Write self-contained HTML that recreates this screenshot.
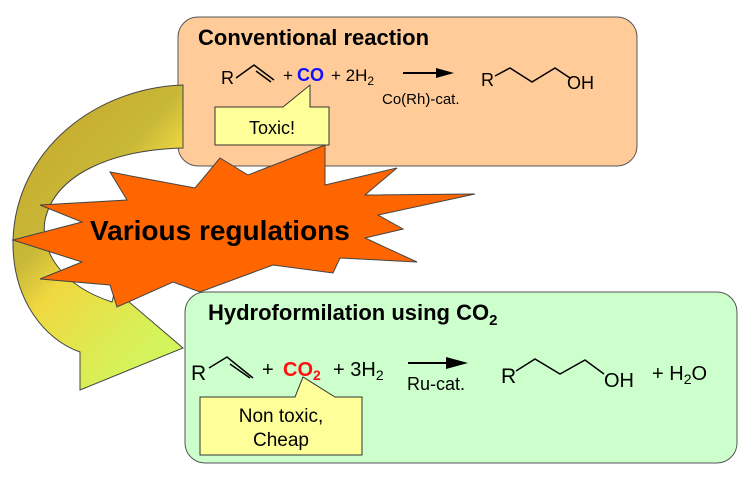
<!DOCTYPE html>
<html><head><meta charset="utf-8"><style>
html,body{margin:0;padding:0;background:#fff;}
svg{display:block;}
text{font-family:"Liberation Sans",sans-serif;}
.h{font-weight:bold;}
</style></head><body>
<svg width="755" height="488" viewBox="0 0 755 488" xmlns="http://www.w3.org/2000/svg">
<defs>
<linearGradient id="g" x1="0" y1="0" x2="0.6" y2="1">
<stop offset="0" stop-color="#c8a428"/>
<stop offset="0.45" stop-color="#c8b838"/>
<stop offset="0.6" stop-color="#f0d840"/>
<stop offset="1" stop-color="#d4f45c"/>
</linearGradient>
</defs>
<rect x="178" y="17" width="459" height="149" rx="20" fill="#ffcc99" stroke="#555" stroke-width="1"/>
<path d="M183,85 C95,88 16,150 13,240 C12,300 45,340 80,352 L80,390 L183,348 L115,290 L112,302 C60,285 40,250 45,220 C55,175 110,150 183,148 Z" fill="url(#g)" stroke="#444" stroke-width="1"/>
<rect x="185" y="292" width="552" height="171" rx="20" fill="#ccffcc" stroke="#555" stroke-width="1"/>
<polygon points="13,240 82,222 40,205 127,200 110,172 195,188 220,158 248,175 325,145 325,185 397,168 365,195 475,194 378,215 403,229 365,238 417,262 340,258 333,273 273,265 200,292 173,282 117,307 110,285 40,279 82,262" fill="#ff6600" stroke="#444" stroke-width="1"/>
<text x="90" y="240" class="h" font-size="28" fill="#000">Various regulations</text>
<text x="198" y="45" class="h" font-size="22">Conventional reaction</text>
<text x="221" y="84" font-size="18">R</text>
<polyline points="236,78 254,65 274,80" fill="none" stroke="#000" stroke-width="1.5"/>
<line x1="256" y1="71" x2="271" y2="82" stroke="#000" stroke-width="1.5"/>
<text x="283" y="81" font-size="17">+</text>
<text x="297" y="81" font-size="18" class="h" fill="#1010ff">CO</text>
<text x="331" y="81" font-size="17">+ 2H<tspan font-size="12" dy="4">2</tspan></text>
<line x1="403" y1="73" x2="440" y2="73" stroke="#000" stroke-width="2"/>
<polygon points="436,68 454,73 436,78" fill="#000"/>
<text x="382" y="104" font-size="15">Co(Rh)-cat.</text>
<text x="481" y="86" font-size="18">R</text>
<polyline points="495,76 510,68 532,82 555,68 570,78" fill="none" stroke="#000" stroke-width="1.5"/>
<text x="567" y="89" font-size="18">OH</text>
<polygon points="215,107 283,107 310,85 310,107 329,107 329,145 215,145" fill="#ffff99" stroke="#333" stroke-width="1"/>
<text x="272" y="134" font-size="18" text-anchor="middle">Toxic!</text>
<text x="208" y="320" class="h" font-size="22">Hydroformilation using CO<tspan font-size="15" dy="5">2</tspan></text>
<text x="191" y="380" font-size="21">R</text>
<polyline points="209,368 227,357 253,378" fill="none" stroke="#000" stroke-width="1.5"/>
<line x1="230" y1="364" x2="250" y2="378" stroke="#000" stroke-width="1.5"/>
<text x="262" y="376" font-size="20">+</text>
<text x="283" y="376" font-size="20" class="h" fill="#ff1010">CO<tspan font-size="14" dy="4">2</tspan></text>
<text x="333" y="376" font-size="20">+ 3H<tspan font-size="14" dy="4">2</tspan></text>
<line x1="408" y1="363" x2="450" y2="363" stroke="#000" stroke-width="2"/>
<polygon points="446,357 468,363 446,369" fill="#000"/>
<text x="407" y="390" font-size="18">Ru-cat.</text>
<text x="501" y="383" font-size="21">R</text>
<polyline points="516,371 535,359 560,374 585,360 604,374" fill="none" stroke="#000" stroke-width="1.5"/>
<text x="604" y="387" font-size="20">OH</text>
<text x="652" y="380" font-size="20">+ H<tspan font-size="14" dy="4">2</tspan><tspan dy="-4">O</tspan></text>
<polygon points="200,397 295,397 303,377 335,397 362,397 362,455 200,455" fill="#ffff99" stroke="#333" stroke-width="1"/>
<text x="281" y="422" font-size="19" text-anchor="middle">Non toxic,</text>
<text x="281" y="446" font-size="19" text-anchor="middle">Cheap</text>
</svg>
</body></html>
